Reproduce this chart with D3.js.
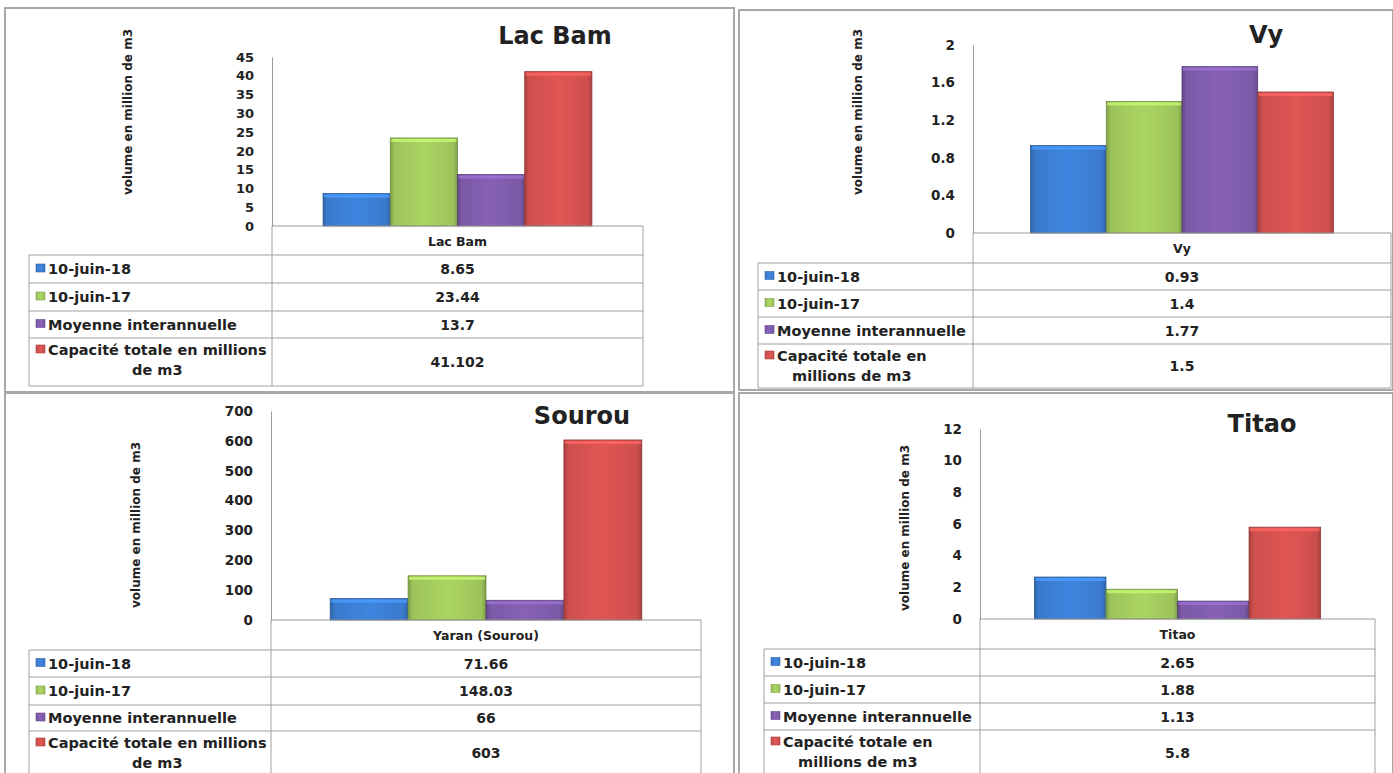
<!DOCTYPE html>
<meta charset="utf-8">
<head>
  <style>
    body { margin: 0; background: #fff; }
    text { font-family: "DejaVu Sans", "Open Sans", sans-serif; font-weight: bold; fill: #222; }
  </style>
</head>
<body>
  <svg id="chart" width="1393" height="773"></svg>
  <script src="https://d3js.org/d3.v7.min.js"></script>
  <script>
    // series and values
    const series = ["10-juin-18", "10-juin-17", "Moyenne interannuelle", "Capacité totale en millions de m3"];
    const titles = ["Lac Bam", "Vy", "Sourou", "Titao"];
    const categories = ["Lac Bam", "Vy", "Yaran (Sourou)", "Titao"];
    const lacBam = [8.65, 23.44, 13.7, 41.102];
    const vy = [0.93, 1.4, 1.77, 1.5];
    const sourou = [71.66, 148.03, 66, 603];
    const titao = [2.65, 1.88, 1.13, 5.8];
    const lacBamTicks = [0, 5, 10, 15, 20, 25, 30, 35, 40, 45];
    const vyTicks = [0, 0.4, 0.8, 1.2, 1.6, 2];
    const sourouTicks = [0, 100, 200, 300, 400, 500, 600, 700];
    const titaoTicks = [0, 2, 4, 6, 8, 10, 12];
    const valueLabels = [
      ["8.65", "23.44", "13.7", "41.102"],
      ["0.93", "1.4", "1.77", "1.5"],
      ["71.66", "148.03", "66", "603"],
      ["2.65", "1.88", "1.13", "5.8"]
    ];
    const colors = ["#3a7acc", "#9cc35a", "#7b59a6", "#cd4f4d"];

    var svg = d3.select("#chart");

    // gradients for the bevelled bars
    var defs = svg.append("defs");
    colors.forEach(function (c, i) {
      var g = defs.append("linearGradient").attr("id", "grad" + i)
        .attr("x1", 0).attr("x2", 1).attr("y1", 0).attr("y2", 0);
      var dark = d3.color(c).darker(0.6), light = d3.color(c).brighter(0.25);
      g.append("stop").attr("offset", 0).attr("stop-color", dark);
      g.append("stop").attr("offset", 0.06).attr("stop-color", c);
      g.append("stop").attr("offset", 0.5).attr("stop-color", light);
      g.append("stop").attr("offset", 0.94).attr("stop-color", c);
      g.append("stop").attr("offset", 1).attr("stop-color", dark);
    });

    // panel layouts
    var panels = [
      { values: lacBam, ticks: lacBamTicks, box: [5, 8, 734, 392], axisX: 272, right: 643, top: 57, base: 226,
        tableLeft: 29, rows: [255, 283, 311, 338, 386], title: [555, 44], ylab: [128, 112],
        capLines: ["Capacité totale en millions", "de m3"], tickSize: 13 },
      { values: vy, ticks: vyTicks, box: [739, 10, 1393, 390], axisX: 973, right: 1391, top: 45, base: 233,
        tableLeft: 758, rows: [263, 290, 317, 344, 388], title: [1266, 43], ylab: [858, 112],
        capLines: ["Capacité totale en", "millions de m3"], tickSize: 13.5 },
      { values: sourou, ticks: sourouTicks, box: [5, 393, 734, 780], axisX: 271, right: 701, top: 411, base: 620,
        tableLeft: 29, rows: [650, 677, 705, 731, 775], title: [582, 424], ylab: [136, 525],
        capLines: ["Capacité totale en millions", "de m3"], tickSize: 13.5 },
      { values: titao, ticks: titaoTicks, box: [739, 393, 1393, 780], axisX: 980, right: 1375, top: 429, base: 619,
        tableLeft: 764, rows: [649, 676, 703, 730, 775], title: [1262, 432], ylab: [905, 528],
        capLines: ["Capacité totale en", "millions de m3"], tickSize: 13.5 }
    ];

    panels.forEach(function (p, pi) {
      var g = svg.append("g");

      // panel frame
      g.append("rect")
        .attr("x", p.box[0]).attr("y", p.box[1])
        .attr("width", p.box[2] - p.box[0]).attr("height", p.box[3] - p.box[1])
        .attr("fill", "none").attr("stroke", "#a8a8a8").attr("stroke-width", 2);

      var y = d3.scaleLinear()
        .domain([0, d3.max(p.ticks)])
        .range([p.base, p.top]);

      var x0 = d3.scaleBand().domain([categories[pi]]).range([p.axisX, p.right]).paddingOuter(0.19);
      var x1 = d3.scaleBand().domain(series).range([x0(categories[pi]), x0(categories[pi]) + x0.bandwidth()]);

      // y axis
      var yAxis = d3.axisLeft(y).tickValues(p.ticks).tickSize(0).tickPadding(18)
        .tickFormat(function (d) { return String(+d.toFixed(1)); });
      var ax = g.append("g").attr("transform", "translate(" + p.axisX + ",0)").call(yAxis);
      ax.select(".domain").attr("stroke", "#9a9a9a");
      ax.selectAll("text").attr("font-family", null).attr("font-size", p.tickSize).attr("fill", "#222");

      // bars
      g.selectAll(".bar")
        .data(p.values)
        .enter().append("rect")
        .attr("x", function (d, i) { return x1(series[i]); })
        .attr("width", x1.bandwidth())
        .attr("y", function (d) { return y(d); })
        .attr("height", function (d) { return p.base - y(d); })
        .attr("fill", function (d, i) { return "url(#grad" + i + ")"; })
        .attr("stroke", function (d, i) { return d3.color(colors[i]).darker(0.9); })
        .attr("stroke-width", 0.8);
      // light bevel on top of each bar
      g.selectAll(".bevel")
        .data(p.values)
        .enter().append("rect")
        .attr("x", function (d, i) { return x1(series[i]) + 1; })
        .attr("width", x1.bandwidth() - 2)
        .attr("y", function (d) { return y(d) + 1; })
        .attr("height", 3)
        .attr("fill", function (d, i) { return d3.color(colors[i]).brighter(0.7); })
        .attr("opacity", 0.8);

      // data table
      var lineCol = "#a0a0a0";
      var rows = p.rows;
      g.append("line").attr("x1", p.axisX).attr("x2", p.axisX).attr("y1", p.base).attr("y2", rows[4]).attr("stroke", lineCol);
      g.append("line").attr("x1", p.right).attr("x2", p.right).attr("y1", p.base).attr("y2", rows[4]).attr("stroke", lineCol);
      g.append("line").attr("x1", p.axisX).attr("x2", p.right).attr("y1", p.base).attr("y2", p.base).attr("stroke", "#9a9a9a");
      g.append("line").attr("x1", p.tableLeft).attr("x2", p.tableLeft).attr("y1", rows[0]).attr("y2", rows[4]).attr("stroke", lineCol);
      rows.forEach(function (ry) {
        g.append("line").attr("x1", p.tableLeft).attr("x2", p.right).attr("y1", ry).attr("y2", ry).attr("stroke", lineCol);
      });

      // category header
      g.append("text")
        .attr("x", (p.axisX + p.right) / 2).attr("y", (p.base + rows[0]) / 2 + 5)
        .attr("text-anchor", "middle").attr("font-size", 12.5)
        .text(categories[pi]);

      series.forEach(function (s, i) {
        var top = rows[i], bottom = rows[i + 1];
        var mid = (top + bottom) / 2;
        // legend key
        g.append("rect")
          .attr("x", p.tableLeft + 7).attr("y", (i < 3 ? mid : top + 12) - 5)
          .attr("width", 9).attr("height", 8)
          .attr("fill", "url(#grad" + i + ")")
          .attr("stroke", d3.color(colors[i]).darker(0.6)).attr("stroke-width", 0.6);
        if (i < 3) {
          g.append("text").attr("x", p.tableLeft + 19).attr("y", mid + 5)
            .attr("font-size", 14.5).text(s);
        } else {
          var first = g.append("text").attr("x", p.tableLeft + 19).attr("y", top + 17)
            .attr("font-size", 14.5).text(p.capLines[0]);
          var w = first.node().getComputedTextLength();
          g.append("text").attr("x", p.tableLeft + 19 + w / 2).attr("y", top + 37)
            .attr("text-anchor", "middle").attr("font-size", 14.5).text(p.capLines[1]);
        }
        g.append("text")
          .attr("x", (p.axisX + p.right) / 2).attr("y", mid + 5)
          .attr("text-anchor", "middle").attr("font-size", 14)
          .text(valueLabels[pi][i]);
      });

      // title
      g.append("text")
        .attr("x", p.title[0]).attr("y", p.title[1])
        .attr("text-anchor", "middle").attr("font-size", 24)
        .text(titles[pi]);

      // y axis label
      g.append("text")
        .attr("transform", "translate(" + p.ylab[0] + "," + p.ylab[1] + ") rotate(-90)")
        .attr("text-anchor", "middle").attr("dy", "0.35em").attr("font-size", 12)
        .text("volume en million de m3");
    });
  </script>
</body>
